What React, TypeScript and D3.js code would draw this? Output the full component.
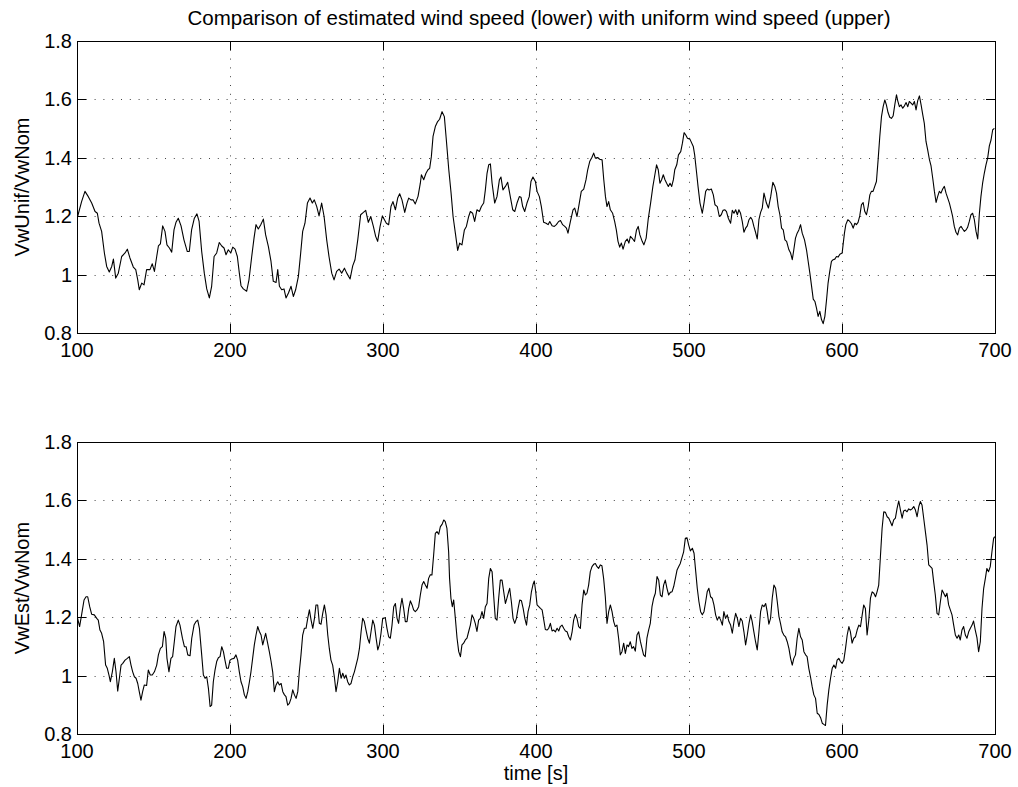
import React from "react";
import * as d3 from "d3";

const titleText = "Comparison of estimated wind speed (lower) with uniform wind speed (upper)";
const xLabelText = "time [s]";
const topYLabel = "VwUnif/VwNom";
const bottomYLabel = "VwEst/VwNom";
const xTicks = [100, 200, 300, 400, 500, 600, 700];
const yTicks = [0.8, 1, 1.2, 1.4, 1.6, 1.8];
const yTickLabels = ["0.8", "1", "1.2", "1.4", "1.6", "1.8"];

// [time (s), VwUnif/VwNom]
const uniformWind: [number, number][] = [
  [100.4,1.199],[103,1.25],[105.2,1.285],[107.4,1.267],[109.6,1.245],[111.8,1.216],[113.3,1.21],[114.4,1.176],[116.1,1.148],[117.9,1.074],[119.4,1.028],[121.1,1.009],[122.7,1.028],[123.8,1.053],[125.3,0.988],[127,1.005],[129.2,1.062],[131.4,1.074],[132.9,1.087],[134.6,1.057],[136.8,1.026],[138.4,1.017],[139.7,0.982],[140.7,0.948],[142.3,0.971],[143.8,0.965],[145.5,1.017],[147.7,1.017],[149.2,1.037],[150.6,1.011],[152.1,1.062],[153.2,1.098],[154.5,1.105],[156,1.167],[157.5,1.148],[158.8,1.102],[160.4,1.091],[161.9,1.077],[163.4,1.153],[164.7,1.179],[166.2,1.193],[168,1.167],[169.9,1.119],[172.1,1.079],[173.4,1.079],[174.9,1.153],[176.7,1.193],[178.4,1.208],[179.8,1.182],[181.5,1.079],[183.2,1.005],[184.8,0.951],[186.5,0.92],[188,0.96],[189.6,1.062],[191.3,1.074],[193,1.11],[194.6,1.098],[196.1,1.091],[197.4,1.068],[198.9,1.085],[200.5,1.074],[201.8,1.094],[203.3,1.087],[204.8,1.062],[206.1,1.005],[207.2,0.962],[208.7,0.951],[210.9,0.943],[212.4,0.982],[214.2,1.062],[215.7,1.125],[217,1.171],[218.5,1.156],[220.1,1.171],[221.8,1.19],[223.3,1.136],[225.1,1.096],[226.8,1.045],[228.3,0.977],[230.1,0.973],[231.2,1.017],[232.3,0.96],[233.8,0.948],[235.3,0.951],[236.6,0.92],[238.2,0.937],[239.9,0.96],[241.4,0.925],[242.9,0.948],[244.7,0.994],[246.2,1.074],[247.5,1.148],[249,1.176],[250.6,1.245],[252.3,1.262],[253.8,1.245],[255.1,1.256],[256.7,1.233],[258.2,1.201],[259.9,1.245],[261.5,1.199],[263.2,1.119],[264.7,1.062],[266.5,1.005],[268,0.982],[269.7,1.011],[271.3,1.019],[273,1.005],[274.8,1.022],[276.3,1.005],[278.5,0.985],[280.2,1.03],[281.7,1.051],[283.5,1.119],[285.4,1.205],[287.2,1.213],[288.7,1.22],[290.4,1.179],[292,1.199],[293.7,1.165],[295.2,1.131],[296.5,1.114],[298.1,1.165],[299.6,1.201],
  [302.2,1.176],[303.7,1.171],[305.2,1.233],[306.5,1.25],[308.1,1.222],[309.6,1.262],[310.9,1.277],[312.4,1.256],[314.2,1.213],[315.7,1.245],[316.8,1.262],[318.3,1.256],[319.6,1.256],[321.1,1.242],[322.9,1.268],[324.4,1.313],[325.1,1.342],[326.6,1.325],[328.1,1.347],[329.4,1.359],[330.5,1.364],[331.6,1.404],[332.7,1.473],[334.2,1.507],[335.7,1.524],[337,1.532],[338.6,1.558],[340.1,1.541],[341.4,1.461],[343,1.359],[344.5,1.279],[345.8,1.199],[347.3,1.142],[348.8,1.083],[350.1,1.108],[351.6,1.102],[353.2,1.153],[354.5,1.165],[356,1.199],[357.1,1.216],[358.6,1.21],[359.9,1.182],[361.4,1.222],[363,1.216],[364.3,1.233],[365.8,1.245],[366.9,1.29],[368,1.347],[369.1,1.376],[370.2,1.379],[371.3,1.313],[373,1.245],[374.5,1.267],[376.1,1.325],[377.1,1.334],[378.4,1.29],[380,1.302],[381.5,1.316],[383.2,1.267],[384.8,1.222],[386.1,1.216],[387.6,1.245],[389.1,1.267],[390.2,1.265],[391.3,1.233],[392.6,1.216],[394.1,1.245],[395.6,1.267],[396.7,1.319],[398,1.334],[399.6,1.319],[400.7,1.285],[402.2,1.267],[403.5,1.233],[405,1.179],[406.6,1.176],[407.9,1.171],[409,1.182],[410.5,1.167],[412,1.165],[413.3,1.171],[414.8,1.182],[416,1.185],[417.4,1.171],[418.8,1.165],[419.9,1.159],[420.9,1.142],[422.5,1.182],[424.2,1.222],[425.3,1.228],[426.8,1.199],[428.3,1.245],[429.6,1.285],[431.2,1.293],[432.7,1.325],[433.8,1.359],[435.1,1.387],[436.6,1.402],[437.7,1.416],[438.8,1.399],[440.3,1.401],[441.6,1.395],[443.2,1.393],[444.3,1.325],[445.4,1.267],[446.4,1.233],[447.5,1.25],[448.6,1.222],[450.1,1.21],[451.4,1.182],[452.5,1.153],[453.6,1.114],[454.7,1.094],[455.8,1.108],[456.9,1.087],[458.4,1.114],[459.6,1.122],[460.7,1.108],[461.7,1.131],[463.2,1.122],[464.4,1.114],[465.7,1.153],[466.8,1.165],[467.9,1.136],[469.4,1.114],[470.5,1.102],[472,1.125],[473.3,1.188],[474.9,1.245],[476.4,1.302],[477.5,1.336],[478.8,1.376],[479.9,1.359],[481,1.313],[482.1,1.325],[483.2,1.342],[484.3,1.325],[485.4,1.313],[486.5,1.302],[487.6,1.313],[488.7,1.302],[489.8,1.325],[490.7,1.359],[492,1.376],[493.1,1.41],[494.6,1.421],[495.7,1.45],[496.8,1.486],[497.9,1.478],[499,1.467],[500.6,1.464],
  [502.8,1.439],[503.7,1.41],[505,1.347],[505.9,1.302],[507.2,1.245],[508.7,1.21],[509.8,1.245],[510.9,1.285],[512,1.293],[513.1,1.29],[514.6,1.293],[515.9,1.273],[517,1.239],[518.5,1.233],[519.8,1.199],[521.1,1.205],[522.2,1.22],[523.5,1.222],[524.5,1.216],[525.7,1.193],[527.2,1.176],[528.3,1.22],[529.4,1.21],[530.5,1.222],[531.6,1.205],[532.6,1.222],[533.7,1.21],[534.8,1.182],[535.9,1.145],[537,1.159],[538.1,1.167],[539.2,1.188],[540.3,1.196],[541.3,1.188],[542.4,1.165],[543.5,1.145],[544.6,1.122],[545.7,1.188],[546.8,1.213],[547.9,1.228],[549,1.279],[550.6,1.245],[551.9,1.228],[553.4,1.267],[554.8,1.316],[556.1,1.302],[557.2,1.279],[558.3,1.233],[559.4,1.205],[560.5,1.159],[561.6,1.153],[562.7,1.119],[563.8,1.114],[565.3,1.085],[566.4,1.074],[567.5,1.051],[568.5,1.085],[569.6,1.125],[570.7,1.142],[571.8,1.153],[572.9,1.171],[574,1.142],[575.5,1.119],[576.8,1.085],[577.9,1.045],[579,1.005],[580,0.965],[581.2,0.916],[582.3,0.908],[583.3,0.886],[584.4,0.857],[585.5,0.874],[586.6,0.846],[587.7,0.832],[588.8,0.857],[589.9,0.914],[590.9,0.971],[592,1.011],[593.1,1.045],[594.2,1.051],[595.3,1.053],[596.4,1.062],[597.5,1.06],[598.6,1.07],[600.1,1.074],[600.7,1.102],[601.6,1.142],[602.5,1.171],[603.8,1.188],[605.1,1.182],[606.2,1.174],[607.3,1.159],[608.4,1.176],[609.4,1.171],[610.5,1.179],[611.6,1.201],[612.7,1.239],[613.8,1.247],[614.9,1.216],[616,1.205],[617.1,1.233],[618.2,1.273],[619.2,1.285],[620.3,1.285],[621.4,1.302],[622.5,1.319],[623.6,1.393],[624.7,1.473],[625.8,1.541],[626.9,1.575],[628,1.598],[629,1.581],[630.1,1.555],[631.2,1.539],[632.3,1.535],[633.4,1.543],[634.5,1.581],[635.6,1.616],[636.4,1.596],[637.5,1.575],[638.6,1.581],[639.7,1.57],[640.8,1.578],[641.9,1.589],[643,1.575],[644,1.593],[645.1,1.587],[646.2,1.581],[647.3,1.593],[648.4,1.564],[649.5,1.596],[650.6,1.612],[651.7,1.581],[652.8,1.547],[653.8,1.518],[654.9,1.456],[656,1.427],[657.1,1.395],[658.2,1.372],[659.3,1.33],[660.4,1.285],[661.5,1.247],[662.5,1.267],[663.6,1.285],[664.7,1.279],[665.8,1.293],[666.9,1.302],[668,1.279],[669.1,1.262],[670.2,1.245],[671.3,1.222],[672.3,1.199],[673.4,1.165],[674.5,1.145],[675.6,1.136],[676.7,1.159],[677.8,1.165],[678.9,1.156],[680,1.148],[681.1,1.153],[682.1,1.162],[683.2,1.182],[684.3,1.205],[685.4,1.21],[686.5,1.188],[687.6,1.148],[688.7,1.122],[689.8,1.21],[690.8,1.267],[691.9,1.313],[693,1.347],[694.1,1.376],[695.2,1.399],[696.3,1.441],[697.4,1.461],[698.5,1.496],[699.6,1.501]
];

// [time (s), VwEst/VwNom]
const estimatedWind: [number, number][] = [
  [100.4,1.196],[101.7,1.168],[103,1.208],[104.6,1.259],[105.9,1.27],[107,1.27],[108.3,1.236],[109.6,1.21],[111.3,1.208],[112.9,1.196],[113.9,1.19],[115,1.156],[116.1,1.145],[117.4,1.116],[118.7,1.036],[119.8,1.025],[120.9,1.002],[121.8,0.979],[123.1,1.013],[124.4,1.059],[125.5,1.013],[126.6,0.947],[127.7,0.991],[128.8,1.036],[129.9,1.042],[131.4,1.053],[132.9,1.059],[134.2,1.065],[135.3,1.036],[136.4,1.013],[137.5,0.996],[138.6,0.991],[139.7,0.973],[140.7,0.945],[141.8,0.916],[142.9,0.945],[144,0.968],[145.5,0.966],[146.6,1.019],[147.9,1.002],[149.2,1.002],[150.6,1.013],[152.1,1.036],[153.2,1.071],[154.5,1.093],[155.8,1.099],[156.9,1.151],[158,1.128],[158.8,1.059],[160.1,1.013],[161.4,1.059],[162.5,1.065],[163.6,1.116],[164.7,1.168],[166.2,1.19],[167.3,1.173],[168.9,1.128],[170.2,1.099],[171.3,1.099],[172.4,1.071],[173.9,1.068],[175,1.128],[176.5,1.173],[177.8,1.185],[178.9,1.19],[180,1.162],[181.5,1.071],[182.6,1.002],[183.7,0.991],[184.8,0.996],[185.9,0.956],[187,0.894],[188,0.899],[189.1,0.979],[190.2,1.019],[191.3,1.048],[192.4,1.061],[193.5,1.065],[194.6,1.099],[195.7,1.082],[196.7,1.053],[197.8,1.025],[198.9,1.025],[200,1.053],[201.1,1.057],[202.6,1.059],[203.9,1.071],[205,1.053],[206.1,1.013],[207.2,0.979],[208.3,0.962],[209.4,0.934],[210.5,0.922],[211.6,0.945],[212.7,0.979],[213.7,1.013],[214.8,1.059],[215.9,1.105],[217,1.139],[218.1,1.168],[219.2,1.151],[220.3,1.139],[221.4,1.105],[222.5,1.128],[223.3,1.145],[224.4,1.116],[225.7,1.082],[226.8,1.05],[227.9,1.013],[229,0.945],[230.1,0.968],[231.2,0.979],[232.3,0.968],[233.4,0.973],[234.5,0.945],[235.6,0.934],[236.6,0.928],[237.7,0.899],[238.8,0.905],[239.9,0.922],[241,0.951],[242.1,0.934],[243.2,0.922],[244.3,0.945],[245.3,1.013],[246.4,1.071],[247.5,1.139],[248.6,1.162],[249.7,1.162],[250.8,1.196],[251.9,1.225],[253,1.19],[254.1,1.162],[255.2,1.196],[256.2,1.242],[257.3,1.242],[258.4,1.179],[259.5,1.176],[260.6,1.213],[261.7,1.242],[262.8,1.208],[263.9,1.139],[264.9,1.093],[266,1.053],[267.1,1.036],[268.2,0.996],[269.3,0.945],[270.4,0.979],[271.5,1.025],[272.6,0.991],[273.7,1.008],[274.8,0.991],[275.8,1.002],[276.9,0.979],[278,0.968],[279.1,0.973],[280.2,0.996],[281.3,1.013],[282.4,1.036],[283.5,1.059],[284.6,1.093],[285.7,1.151],[286.7,1.196],[287.8,1.185],[288.9,1.156],[290,1.128],[291.1,1.111],[292.2,1.151],[293.3,1.19],[294.4,1.173],[295.5,1.128],[296.6,1.088],[297.6,1.105],[298.7,1.145],[299.8,1.196],
  [301.5,1.198],[302.6,1.162],[303.7,1.133],[304.8,1.128],[305.9,1.173],[307,1.236],[308.1,1.247],[309.2,1.196],[310.2,1.179],[311.3,1.23],[312.4,1.265],[313.5,1.23],[314.6,1.185],[315.7,1.185],[316.8,1.23],[317.9,1.256],[319,1.242],[320,1.225],[321.1,1.219],[322.2,1.225],[323.3,1.236],[324.4,1.276],[325.5,1.31],[326.6,1.322],[327.7,1.31],[328.8,1.299],[329.8,1.333],[330.9,1.345],[332,1.345],[333.1,1.413],[334.2,1.487],[335.3,1.493],[336.4,1.484],[337.5,1.51],[338.6,1.518],[339.7,1.533],[340.7,1.527],[341.8,1.504],[342.9,1.424],[343.5,1.333],[344.4,1.265],[345.3,1.236],[346.2,1.259],[347.3,1.196],[348.4,1.128],[349.5,1.082],[350.6,1.065],[351.6,1.105],[352.7,1.111],[353.8,1.122],[354.9,1.128],[356,1.151],[357.1,1.173],[358.2,1.208],[359.3,1.196],[360.3,1.179],[361.4,1.151],[362.5,1.19],[363.6,1.196],[364.7,1.219],[365.8,1.196],[366.9,1.236],[368,1.247],[369.1,1.333],[370.2,1.367],[371.3,1.356],[372.3,1.276],[373.4,1.196],[374.5,1.19],[375.6,1.265],[376.7,1.327],[377.8,1.327],[378.9,1.287],[380,1.247],[381,1.265],[382.1,1.287],[382.8,1.299],[383.9,1.253],[385,1.196],[386.1,1.179],[387.2,1.196],[388.3,1.23],[389.4,1.259],[390.5,1.256],[391.6,1.23],[392.7,1.196],[393.8,1.173],[394.8,1.219],[395.9,1.242],[397,1.287],[398.1,1.313],[398.9,1.324],[399.8,1.287],[400.7,1.242],[401.8,1.236],[402.9,1.23],[404,1.225],[405.1,1.19],[406.1,1.158],[407.2,1.156],[408.3,1.162],[409.4,1.179],[410.5,1.153],[411.6,1.156],[412.7,1.15],[413.8,1.162],[414.9,1.153],[415.9,1.168],[417,1.173],[418.1,1.162],[419.2,1.153],[420.3,1.15],[421.4,1.133],[422.5,1.122],[423.6,1.15],[424.6,1.19],[425.7,1.21],[426.8,1.196],[427.9,1.168],[429,1.162],[430.1,1.242],[431.2,1.293],[432.3,1.276],[433.3,1.282],[434.4,1.31],[435.5,1.356],[436.6,1.373],[437.7,1.381],[438.8,1.384],[439.9,1.373],[440.9,1.367],[442,1.379],[443.1,1.376],[444.2,1.333],[445.3,1.27],[446.4,1.179],[447.5,1.219],[448.6,1.242],[449.7,1.219],[450.8,1.185],[451.8,1.168],[452.9,1.173],[454,1.128],[455.1,1.071],[456.2,1.082],[457.3,1.111],[458.4,1.076],[459.5,1.105],[460.5,1.099],[461.6,1.116],[462.7,1.093],[463.8,1.099],[464.9,1.084],[466,1.139],[467.1,1.15],[468.2,1.118],[469.3,1.093],[470.3,1.071],[471.4,1.065],[472.5,1.128],[473.6,1.156],[474.7,1.179],[475.8,1.236],[476.9,1.265],[478,1.282],[479.1,1.339],[480.2,1.327],[481.3,1.276],[482.4,1.27],[483.4,1.31],[484.5,1.327],[485.6,1.299],[486.7,1.276],[487.8,1.285],[488.9,1.287],[490,1.305],[491.1,1.333],[492.2,1.362],[493.2,1.373],[494.3,1.384],[495.4,1.404],[496.5,1.424],[497.6,1.47],[498.7,1.472],[499.8,1.447],[500.9,1.427],
  [502.2,1.436],[503.3,1.419],[504.4,1.356],[505.4,1.299],[506.5,1.253],[507.6,1.219],[508.7,1.208],[509.8,1.219],[510.9,1.253],[511.9,1.287],[513,1.299],[514.1,1.27],[515.2,1.265],[516.3,1.242],[517.4,1.208],[518.5,1.19],[519.6,1.202],[520.7,1.19],[521.8,1.173],[522.8,1.219],[523.9,1.196],[525,1.208],[526.1,1.185],[527.2,1.173],[528.3,1.145],[529.4,1.185],[530.5,1.213],[531.6,1.196],[532.6,1.168],[533.7,1.196],[534.8,1.187],[535.9,1.15],[537,1.105],[538.1,1.139],[539.2,1.179],[540.3,1.208],[541.3,1.185],[542.4,1.15],[543.5,1.116],[544.6,1.088],[545.7,1.15],[546.8,1.219],[547.9,1.242],[549,1.236],[550.1,1.247],[551.1,1.219],[552.2,1.176],[553.3,1.196],[554.4,1.265],[555.5,1.31],[556.6,1.299],[557.7,1.253],[558.8,1.202],[559.8,1.179],[560.9,1.15],[562,1.139],[563.1,1.133],[564.2,1.116],[565.3,1.093],[566.4,1.059],[567.5,1.036],[568.5,1.059],[569.6,1.071],[570.7,1.128],[571.8,1.162],[572.9,1.133],[574,1.122],[575.1,1.082],[576.2,1.071],[577.2,1.065],[578.3,1.025],[579.4,0.996],[580.5,0.962],[581.6,0.934],[582.7,0.922],[583.8,0.871],[584.9,0.867],[586,0.856],[587.1,0.837],[588.1,0.833],[589.2,0.829],[590.3,0.899],[591.4,0.951],[592.5,0.991],[593.6,1.025],[594.7,1.036],[595.8,1.025],[596.8,1.053],[597.9,1.059],[599,1.048],[600.1,1.042],[601.2,1.053],[602.3,1.093],[603.4,1.139],[604.5,1.168],[605.5,1.15],[606.6,1.111],[607.7,1.128],[608.8,1.133],[609.9,1.156],[611,1.173],[612.1,1.168],[613.2,1.208],[614.2,1.242],[615.3,1.23],[616.4,1.139],[617.5,1.19],[618.6,1.265],[619.7,1.287],[620.8,1.282],[621.9,1.27],[622.9,1.287],[624,1.31],[625.1,1.407],[626.2,1.504],[627.3,1.561],[628.4,1.559],[629.5,1.544],[630.6,1.539],[631.6,1.527],[632.7,1.513],[633.8,1.533],[634.9,1.539],[636,1.573],[637.1,1.598],[638.2,1.567],[639.3,1.539],[640.3,1.564],[641.4,1.567],[642.5,1.561],[643.6,1.571],[644.7,1.567],[645.8,1.571],[646.9,1.579],[648,1.567],[649.1,1.544],[650.2,1.579],[651.2,1.596],[652.3,1.584],[653.4,1.539],[654.5,1.493],[655.6,1.447],[656.7,1.379],[657.8,1.373],[658.9,1.367],[659.9,1.322],[661,1.276],[662.1,1.213],[663.2,1.208],[664.3,1.253],[665.4,1.293],[666.5,1.282],[667.6,1.27],[668.6,1.282],[669.7,1.242],[670.8,1.225],[671.9,1.208],[673,1.173],[674.1,1.139],[675.2,1.128],[676.3,1.139],[677.3,1.122],[678.4,1.156],[679.5,1.168],[680.6,1.139],[681.7,1.128],[682.8,1.15],[683.9,1.162],[685,1.173],[686,1.187],[687.1,1.156],[688.2,1.13],[689.3,1.082],[690.4,1.116],[691.5,1.23],[692.6,1.299],[693.7,1.333],[694.7,1.367],[695.8,1.356],[696.9,1.373],[698,1.424],[699.1,1.47],[699.8,1.476]
];

const W = 1018;
const H = 787;
const left = 77;
const right = 995;
const FONT = "'Liberation Sans', Arial, Helvetica, sans-serif";
const FS = 20;
const TITLE_FS = 20.5;

function Panel({ top, bottom, data, yLabel }: { top: number; bottom: number; data: [number, number][]; yLabel: string }) {
  const x = d3.scaleLinear().domain([100, 700]).range([left, right]);
  const y = d3.scaleLinear().domain([0.8, 1.8]).range([bottom, top]);
  const line = d3
    .line<[number, number]>()
    .x((d) => x(d[0]))
    .y((d) => y(d[1]));
  const tickLen = 9;
  const gridColor = "#444";
  return (
    <g>
      {yTicks.slice(1, -1).map((v) => (
        <line key={"gy" + v} x1={left} x2={right} y1={Math.round(y(v)) + 0.5} y2={Math.round(y(v)) + 0.5}
          stroke={gridColor} strokeWidth={1} strokeDasharray="1 7.8" />
      ))}
      {xTicks.slice(1, -1).map((t) => (
        <line key={"gx" + t} x1={Math.round(x(t)) + 0.5} x2={Math.round(x(t)) + 0.5} y1={top} y2={bottom}
          stroke={gridColor} strokeWidth={1} strokeDasharray="1 7.8" />
      ))}
      {xTicks.map((t) => (
        <g key={"tx" + t}>
          <line x1={Math.round(x(t)) + 0.5} x2={Math.round(x(t)) + 0.5} y1={bottom} y2={bottom - tickLen} stroke="#000" />
          <line x1={Math.round(x(t)) + 0.5} x2={Math.round(x(t)) + 0.5} y1={top} y2={top + tickLen} stroke="#000" />
          <text x={x(t)} y={bottom + 24} textAnchor="middle" fontFamily={FONT} fontSize={FS} fill="#000">{t}</text>
        </g>
      ))}
      {yTicks.map((v, i) => (
        <g key={"ty" + v}>
          <line x1={left} x2={left + tickLen} y1={Math.round(y(v)) + 0.5} y2={Math.round(y(v)) + 0.5} stroke="#000" />
          <line x1={right} x2={right - tickLen} y1={Math.round(y(v)) + 0.5} y2={Math.round(y(v)) + 0.5} stroke="#000" />
          <text x={left - 5} y={y(v) + 7} textAnchor="end" fontFamily={FONT} fontSize={FS} fill="#000">{yTickLabels[i]}</text>
        </g>
      ))}
      <path d={line(data) || ""} fill="none" stroke="#000" strokeWidth={1.1} strokeLinejoin="round" />
      <rect x={left + 0.5} y={top + 0.5} width={right - left} height={bottom - top} fill="none" stroke="#000" strokeWidth={1} />
      <text transform={`translate(${29},${(top + bottom) / 2}) rotate(-90)`} textAnchor="middle" fontFamily={FONT} fontSize={FS} fill="#000">{yLabel}</text>
    </g>
  );
}

export default function App() {
  return (
    <svg width={W} height={H} style={{ position: "absolute", left: 0, top: 0, background: "#fff" }}>
      <rect x={0} y={0} width={W} height={H} fill="#fff" />
      <text x={(left + right) / 2 + 3} y={25} textAnchor="middle" fontFamily={FONT} fontSize={TITLE_FS} fill="#000">{titleText}</text>
      <Panel top={41} bottom={333} data={uniformWind} yLabel={topYLabel} />
      <Panel top={442} bottom={734} data={estimatedWind} yLabel={bottomYLabel} />
      <text x={(left + right) / 2} y={780} textAnchor="middle" fontFamily={FONT} fontSize={FS} fill="#000">{xLabelText}</text>
    </svg>
  );
}
